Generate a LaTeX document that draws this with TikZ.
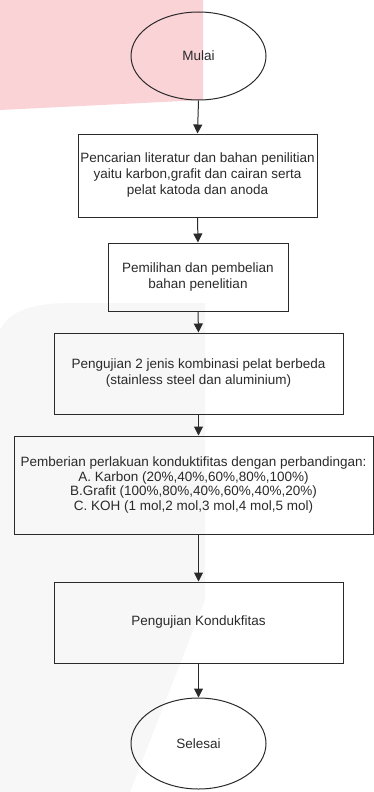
\documentclass[tikz,border=0pt]{standalone}
\usepackage{fontspec}
\setmainfont{Liberation Sans}
\usetikzlibrary{arrows.meta,shapes.geometric}
\definecolor{pinkbg}{HTML}{FAD3D7}
\definecolor{graybg}{HTML}{F7F7F7}
\definecolor{ink}{HTML}{2A2A2A}
\begin{document}
\begin{tikzpicture}[x=1pt,y=-1pt,
  every node/.style={font=\fontsize{13.5}{16}\selectfont, text=ink},
  stepbox/.style={draw=ink, line width=1pt, rectangle, align=center, inner sep=2pt},
  termnode/.style={draw=ink, line width=1pt, ellipse, inner sep=0pt, minimum width=135pt},
  flow/.style={draw=ink, line width=1pt, -{Triangle[length=9pt,width=9pt]}}]
\useasboundingbox (0,0) rectangle (374,792);
% background tints
\fill[pinkbg] (0,0) -- (203,0) -- (203,100) -- (0,110) -- cycle;
\fill[graybg] (0,330) .. controls (10,308) and (40,303) .. (70,303) -- (205,303) -- (205,600) -- (130,792) -- (0,792) -- cycle;
% nodes
\node[termnode, minimum height=88pt] (start) at (198.5,56) {Mulai};
\node[stepbox, minimum width=239pt, minimum height=83pt] (b1) at (197.5,175.5)
  {Pencarian literatur dan bahan penilitian\\yaitu karbon,grafit dan cairan serta\\pelat katoda dan anoda};
\node[stepbox, minimum width=180pt, minimum height=68pt] (b2) at (198,277)
  {Pemilihan dan pembelian\\bahan penelitian};
\node[stepbox, minimum width=289pt, minimum height=81pt] (b3) at (198.5,373.5)
  {Pengujian 2 jenis kombinasi pelat berbeda\\(stainless steel dan aluminium)};
\node[stepbox, minimum width=359pt, minimum height=98pt, font=\fontsize{13.5}{14.8}\selectfont] (b4) at (193.5,485)
  {Pemberian perlakuan konduktifitas dengan perbandingan:\\A. Karbon (20\%,40\%,60\%,80\%,100\%)\\B.Grafit (100\%,80\%,40\%,60\%,40\%,20\%)\\C. KOH (1 mol,2 mol,3 mol,4 mol,5 mol)};
\node[stepbox, minimum width=289pt, minimum height=81pt] (b5) at (198.5,622.5)
  {Pengujian Kondukfitas};
\node[termnode, minimum height=91pt] (end) at (198.5,743.5) {Selesai};
% connectors
\draw[flow] (start.south) -- (b1.north);
\draw[flow] (b1.south) -- (b2.north);
\draw[flow] (b2.south) -- (b3.north);
\draw[flow] (b3.south) -- (b3.south |- b4.north);
\draw[flow] (b4.south -| b5.north) -- (b5.north);
\draw[flow] (b5.south) -- (end.north);
\end{tikzpicture}
\end{document}
